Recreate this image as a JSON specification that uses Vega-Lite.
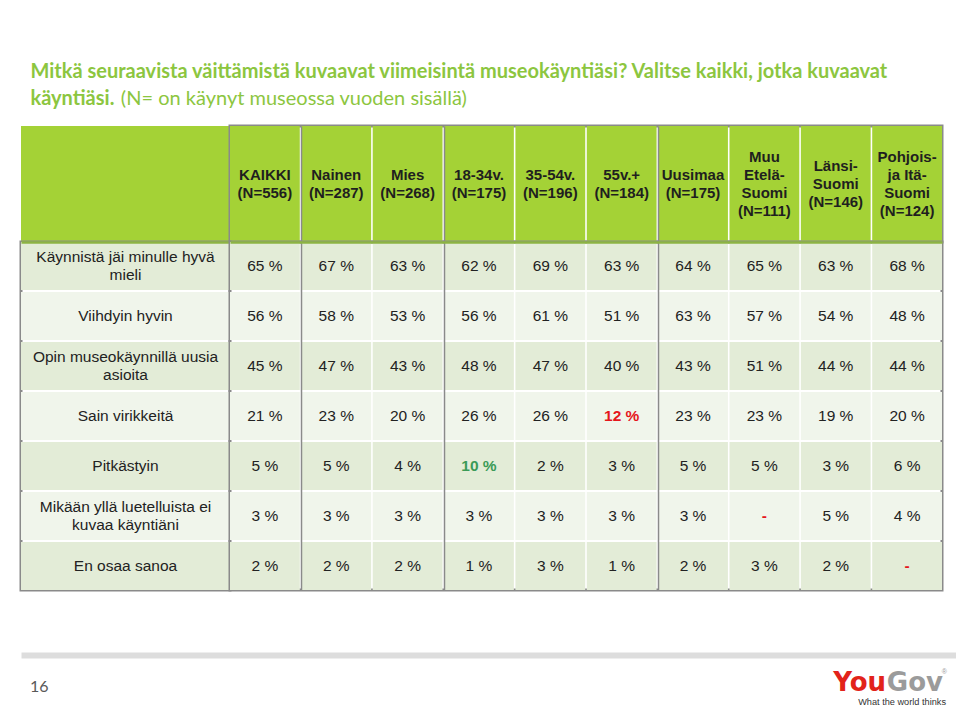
{
  "$schema": "https://vega.github.io/schema/vega-lite/v6.json",
  "background": "white",
  "padding": {"left": 19, "top": 61, "right": 0, "bottom": 0},
  "spacing": 63,
  "config": {
    "font": "Liberation Sans",
    "view": {"stroke": "#8A8A8A", "strokeWidth": 3, "fill": "#FFFFFF"}
  },
  "title": {
    "text": ["Mitkä seuraavista väittämistä kuvaavat viimeisintä museokäyntiäsi? Valitse kaikki, jotka kuvaavat", "käyntiäsi."],
    "subtitle": "\u200b\u2003\u2003\u2003\u2003\u2003\u00a0\u00a0\u00a0(N= on käynyt museossa vuoden sisällä)",
    "anchor": "start",
    "dx": 11,
    "font": "Lato",
    "fontSize": 20,
    "fontWeight": "bold",
    "color": "#8CC63F",
    "lineHeight": 27,
    "subtitleFont": "Lato",
    "subtitleFontSize": 20,
    "subtitleFontWeight": "normal",
    "subtitleColor": "#8CC63F",
    "subtitlePadding": -20,
    "offset": 16
  },
  "datasets": {
    "cols": [
      {"c": "KAIKKI", "h": "KAIKKI\n(N=556)"},
      {"c": "Nainen", "h": "Nainen\n(N=287)"},
      {"c": "Mies", "h": "Mies\n(N=268)"},
      {"c": "18-34v.", "h": "18-34v.\n(N=175)"},
      {"c": "35-54v.", "h": "35-54v.\n(N=196)"},
      {"c": "55v.+", "h": "55v.+\n(N=184)"},
      {"c": "Uusimaa", "h": "Uusimaa\n(N=175)"},
      {"c": "Muu Etelä-Suomi", "h": "Muu\nEtelä-\nSuomi\n(N=111)"},
      {"c": "Länsi-Suomi", "h": "Länsi-\nSuomi\n(N=146)"},
      {"c": "Pohjois- ja Itä-Suomi", "h": "Pohjois-\nja Itä-\nSuomi\n(N=124)"}
    ],
    "rows": [
      {"r": "Käynnistä jäi minulle hyvä mieli", "l": "Käynnistä jäi minulle hyvä\nmieli"},
      {"r": "Viihdyin hyvin", "l": "Viihdyin hyvin"},
      {"r": "Opin museokäynnillä uusia asioita", "l": "Opin museokäynnillä uusia\nasioita"},
      {"r": "Sain virikkeitä", "l": "Sain virikkeitä"},
      {"r": "Pitkästyin", "l": "Pitkästyin"},
      {"r": "Mikään yllä luetelluista ei kuvaa käyntiäni", "l": "Mikään yllä luetelluista ei\nkuvaa käyntiäni"},
      {"r": "En osaa sanoa", "l": "En osaa sanoa"}
    ],
    "cells": [
      {"r": "Käynnistä jäi minulle hyvä mieli", "c": "KAIKKI", "v": "65 %", "s": "n"},
      {"r": "Käynnistä jäi minulle hyvä mieli", "c": "Nainen", "v": "67 %", "s": "n"},
      {"r": "Käynnistä jäi minulle hyvä mieli", "c": "Mies", "v": "63 %", "s": "n"},
      {"r": "Käynnistä jäi minulle hyvä mieli", "c": "18-34v.", "v": "62 %", "s": "n"},
      {"r": "Käynnistä jäi minulle hyvä mieli", "c": "35-54v.", "v": "69 %", "s": "n"},
      {"r": "Käynnistä jäi minulle hyvä mieli", "c": "55v.+", "v": "63 %", "s": "n"},
      {"r": "Käynnistä jäi minulle hyvä mieli", "c": "Uusimaa", "v": "64 %", "s": "n"},
      {"r": "Käynnistä jäi minulle hyvä mieli", "c": "Muu Etelä-Suomi", "v": "65 %", "s": "n"},
      {"r": "Käynnistä jäi minulle hyvä mieli", "c": "Länsi-Suomi", "v": "63 %", "s": "n"},
      {"r": "Käynnistä jäi minulle hyvä mieli", "c": "Pohjois- ja Itä-Suomi", "v": "68 %", "s": "n"},
      {"r": "Viihdyin hyvin", "c": "KAIKKI", "v": "56 %", "s": "n"},
      {"r": "Viihdyin hyvin", "c": "Nainen", "v": "58 %", "s": "n"},
      {"r": "Viihdyin hyvin", "c": "Mies", "v": "53 %", "s": "n"},
      {"r": "Viihdyin hyvin", "c": "18-34v.", "v": "56 %", "s": "n"},
      {"r": "Viihdyin hyvin", "c": "35-54v.", "v": "61 %", "s": "n"},
      {"r": "Viihdyin hyvin", "c": "55v.+", "v": "51 %", "s": "n"},
      {"r": "Viihdyin hyvin", "c": "Uusimaa", "v": "63 %", "s": "n"},
      {"r": "Viihdyin hyvin", "c": "Muu Etelä-Suomi", "v": "57 %", "s": "n"},
      {"r": "Viihdyin hyvin", "c": "Länsi-Suomi", "v": "54 %", "s": "n"},
      {"r": "Viihdyin hyvin", "c": "Pohjois- ja Itä-Suomi", "v": "48 %", "s": "n"},
      {"r": "Opin museokäynnillä uusia asioita", "c": "KAIKKI", "v": "45 %", "s": "n"},
      {"r": "Opin museokäynnillä uusia asioita", "c": "Nainen", "v": "47 %", "s": "n"},
      {"r": "Opin museokäynnillä uusia asioita", "c": "Mies", "v": "43 %", "s": "n"},
      {"r": "Opin museokäynnillä uusia asioita", "c": "18-34v.", "v": "48 %", "s": "n"},
      {"r": "Opin museokäynnillä uusia asioita", "c": "35-54v.", "v": "47 %", "s": "n"},
      {"r": "Opin museokäynnillä uusia asioita", "c": "55v.+", "v": "40 %", "s": "n"},
      {"r": "Opin museokäynnillä uusia asioita", "c": "Uusimaa", "v": "43 %", "s": "n"},
      {"r": "Opin museokäynnillä uusia asioita", "c": "Muu Etelä-Suomi", "v": "51 %", "s": "n"},
      {"r": "Opin museokäynnillä uusia asioita", "c": "Länsi-Suomi", "v": "44 %", "s": "n"},
      {"r": "Opin museokäynnillä uusia asioita", "c": "Pohjois- ja Itä-Suomi", "v": "44 %", "s": "n"},
      {"r": "Sain virikkeitä", "c": "KAIKKI", "v": "21 %", "s": "n"},
      {"r": "Sain virikkeitä", "c": "Nainen", "v": "23 %", "s": "n"},
      {"r": "Sain virikkeitä", "c": "Mies", "v": "20 %", "s": "n"},
      {"r": "Sain virikkeitä", "c": "18-34v.", "v": "26 %", "s": "n"},
      {"r": "Sain virikkeitä", "c": "35-54v.", "v": "26 %", "s": "n"},
      {"r": "Sain virikkeitä", "c": "55v.+", "v": "12 %", "s": "down"},
      {"r": "Sain virikkeitä", "c": "Uusimaa", "v": "23 %", "s": "n"},
      {"r": "Sain virikkeitä", "c": "Muu Etelä-Suomi", "v": "23 %", "s": "n"},
      {"r": "Sain virikkeitä", "c": "Länsi-Suomi", "v": "19 %", "s": "n"},
      {"r": "Sain virikkeitä", "c": "Pohjois- ja Itä-Suomi", "v": "20 %", "s": "n"},
      {"r": "Pitkästyin", "c": "KAIKKI", "v": "5 %", "s": "n"},
      {"r": "Pitkästyin", "c": "Nainen", "v": "5 %", "s": "n"},
      {"r": "Pitkästyin", "c": "Mies", "v": "4 %", "s": "n"},
      {"r": "Pitkästyin", "c": "18-34v.", "v": "10 %", "s": "up"},
      {"r": "Pitkästyin", "c": "35-54v.", "v": "2 %", "s": "n"},
      {"r": "Pitkästyin", "c": "55v.+", "v": "3 %", "s": "n"},
      {"r": "Pitkästyin", "c": "Uusimaa", "v": "5 %", "s": "n"},
      {"r": "Pitkästyin", "c": "Muu Etelä-Suomi", "v": "5 %", "s": "n"},
      {"r": "Pitkästyin", "c": "Länsi-Suomi", "v": "3 %", "s": "n"},
      {"r": "Pitkästyin", "c": "Pohjois- ja Itä-Suomi", "v": "6 %", "s": "n"},
      {"r": "Mikään yllä luetelluista ei kuvaa käyntiäni", "c": "KAIKKI", "v": "3 %", "s": "n"},
      {"r": "Mikään yllä luetelluista ei kuvaa käyntiäni", "c": "Nainen", "v": "3 %", "s": "n"},
      {"r": "Mikään yllä luetelluista ei kuvaa käyntiäni", "c": "Mies", "v": "3 %", "s": "n"},
      {"r": "Mikään yllä luetelluista ei kuvaa käyntiäni", "c": "18-34v.", "v": "3 %", "s": "n"},
      {"r": "Mikään yllä luetelluista ei kuvaa käyntiäni", "c": "35-54v.", "v": "3 %", "s": "n"},
      {"r": "Mikään yllä luetelluista ei kuvaa käyntiäni", "c": "55v.+", "v": "3 %", "s": "n"},
      {"r": "Mikään yllä luetelluista ei kuvaa käyntiäni", "c": "Uusimaa", "v": "3 %", "s": "n"},
      {"r": "Mikään yllä luetelluista ei kuvaa käyntiäni", "c": "Muu Etelä-Suomi", "v": "-", "s": "nil"},
      {"r": "Mikään yllä luetelluista ei kuvaa käyntiäni", "c": "Länsi-Suomi", "v": "5 %", "s": "n"},
      {"r": "Mikään yllä luetelluista ei kuvaa käyntiäni", "c": "Pohjois- ja Itä-Suomi", "v": "4 %", "s": "n"},
      {"r": "En osaa sanoa", "c": "KAIKKI", "v": "2 %", "s": "n"},
      {"r": "En osaa sanoa", "c": "Nainen", "v": "2 %", "s": "n"},
      {"r": "En osaa sanoa", "c": "Mies", "v": "2 %", "s": "n"},
      {"r": "En osaa sanoa", "c": "18-34v.", "v": "1 %", "s": "n"},
      {"r": "En osaa sanoa", "c": "35-54v.", "v": "3 %", "s": "n"},
      {"r": "En osaa sanoa", "c": "55v.+", "v": "1 %", "s": "n"},
      {"r": "En osaa sanoa", "c": "Uusimaa", "v": "2 %", "s": "n"},
      {"r": "En osaa sanoa", "c": "Muu Etelä-Suomi", "v": "3 %", "s": "n"},
      {"r": "En osaa sanoa", "c": "Länsi-Suomi", "v": "2 %", "s": "n"},
      {"r": "En osaa sanoa", "c": "Pohjois- ja Itä-Suomi", "v": "-", "s": "nil"}
    ]
  },
  "vconcat": [
    {
      "bounds": "flush",
      "spacing": 0,
      "columns": 2,
      "concat": [
        {
          "width": 209,
          "height": 116,
          "data": {"values": [{"k": "h"}]},
          "mark": {"type": "rect", "fill": "#A4D236"},
          "encoding": {}
        },
        {
          "width": 712,
          "height": 116,
          "data": {"name": "cols"},
          "encoding": {
            "x": {
              "field": "c", "type": "nominal", "sort": null,
              "scale": {"domain": ["KAIKKI", "Nainen", "Mies", "18-34v.", "35-54v.", "55v.+", "Uusimaa", "Muu Etelä-Suomi", "Länsi-Suomi", "Pohjois- ja Itä-Suomi"], "paddingInner": 0.022, "paddingOuter": 0},
              "axis": {"orient": "bottom", "values": ["Nainen", "18-34v.", "Uusimaa"], "bandPosition": 0, "grid": true, "gridColor": "#8A8A8A", "gridWidth": 1.5, "labels": false, "ticks": false, "domain": false, "title": null, "zindex": 1}
            },
            "text": {"field": "h"}
          },
          "layer": [
            {"mark": {"type": "rect", "fill": "#A4D236"}},
            {
              "transform": [{"filter": {"field": "c", "oneOf": ["KAIKKI", "Nainen", "Mies", "18-34v.", "35-54v.", "55v.+", "Uusimaa"]}}],
              "mark": {"type": "text", "fontWeight": "bold", "fontSize": 15, "lineBreak": "\n", "lineHeight": 18, "color": "#1F1F1F", "dy": -9}
            },
            {
              "transform": [{"filter": {"field": "c", "oneOf": ["Länsi-Suomi"]}}],
              "mark": {"type": "text", "fontWeight": "bold", "fontSize": 15, "lineBreak": "\n", "lineHeight": 18, "color": "#1F1F1F", "dy": -18}
            },
            {
              "transform": [{"filter": {"field": "c", "oneOf": ["Muu Etelä-Suomi", "Pohjois- ja Itä-Suomi"]}}],
              "mark": {"type": "text", "fontWeight": "bold", "fontSize": 15, "lineBreak": "\n", "lineHeight": 18, "color": "#1F1F1F", "dy": -27}
            }
          ]
        },
        {
          "width": 209,
          "height": 348,
          "data": {"name": "rows"},
          "encoding": {
            "y": {"field": "r", "type": "nominal", "sort": null, "scale": {"domain": ["Käynnistä jäi minulle hyvä mieli", "Viihdyin hyvin", "Opin museokäynnillä uusia asioita", "Sain virikkeitä", "Pitkästyin", "Mikään yllä luetelluista ei kuvaa käyntiäni", "En osaa sanoa"], "paddingInner": 0.04, "paddingOuter": 0}, "axis": null},
            "x": {"datum": "a", "type": "nominal", "scale": {"domain": ["a"], "paddingInner": 0, "paddingOuter": 0}, "axis": {"orient": "top", "domain": true, "domainColor": "#8DB443", "domainWidth": 2.5, "labels": false, "ticks": false, "grid": false, "title": null, "zindex": 1}}
          },
          "layer": [
            {
              "mark": {"type": "rect"},
              "encoding": {"fill": {"field": "r", "type": "nominal", "scale": {"domain": ["Käynnistä jäi minulle hyvä mieli", "Viihdyin hyvin", "Opin museokäynnillä uusia asioita", "Sain virikkeitä", "Pitkästyin", "Mikään yllä luetelluista ei kuvaa käyntiäni", "En osaa sanoa"], "range": ["#E3ECD7", "#F0F5EB", "#E3ECD7", "#F0F5EB", "#E3ECD7", "#F0F5EB", "#E3ECD7"]}, "legend": null}}
            },
            {
              "transform": [{"filter": {"field": "r", "oneOf": ["Viihdyin hyvin", "Sain virikkeitä", "Pitkästyin", "En osaa sanoa"]}}],
              "mark": {"type": "text", "fontSize": 15.5, "lineBreak": "\n", "lineHeight": 18, "color": "#222222"},
              "encoding": {"text": {"field": "l"}}
            },
            {
              "transform": [{"filter": {"field": "r", "oneOf": ["Käynnistä jäi minulle hyvä mieli", "Opin museokäynnillä uusia asioita", "Mikään yllä luetelluista ei kuvaa käyntiäni"]}}],
              "mark": {"type": "text", "fontSize": 15.5, "lineBreak": "\n", "lineHeight": 18, "color": "#222222", "dy": -9},
              "encoding": {"text": {"field": "l"}}
            }
          ]
        },
        {
          "width": 712,
          "height": 348,
          "data": {"name": "cells"},
          "encoding": {
            "x": {
              "field": "c", "type": "nominal", "sort": null,
              "scale": {"domain": ["KAIKKI", "Nainen", "Mies", "18-34v.", "35-54v.", "55v.+", "Uusimaa", "Muu Etelä-Suomi", "Länsi-Suomi", "Pohjois- ja Itä-Suomi"], "paddingInner": 0.022, "paddingOuter": 0},
              "axis": {"orient": "top", "values": ["Nainen", "18-34v.", "Uusimaa"], "bandPosition": 0, "grid": true, "gridColor": "#8A8A8A", "gridWidth": 1.5, "labels": false, "ticks": false, "domain": true, "domainColor": "#8DB443", "domainWidth": 2.5, "title": null, "zindex": 1}
            },
            "y": {"field": "r", "type": "nominal", "sort": null, "scale": {"domain": ["Käynnistä jäi minulle hyvä mieli", "Viihdyin hyvin", "Opin museokäynnillä uusia asioita", "Sain virikkeitä", "Pitkästyin", "Mikään yllä luetelluista ei kuvaa käyntiäni", "En osaa sanoa"], "paddingInner": 0.04, "paddingOuter": 0}, "axis": null}
          },
          "layer": [
            {
              "mark": {"type": "rect"},
              "encoding": {"fill": {"field": "r", "type": "nominal", "scale": {"domain": ["Käynnistä jäi minulle hyvä mieli", "Viihdyin hyvin", "Opin museokäynnillä uusia asioita", "Sain virikkeitä", "Pitkästyin", "Mikään yllä luetelluista ei kuvaa käyntiäni", "En osaa sanoa"], "range": ["#E3ECD7", "#F0F5EB", "#E3ECD7", "#F0F5EB", "#E3ECD7", "#F0F5EB", "#E3ECD7"]}, "legend": null}}
            },
            {
              "transform": [{"filter": "datum.s === 'n'"}],
              "mark": {"type": "text", "fontSize": 15.5, "color": "#222222"},
              "encoding": {"text": {"field": "v"}}
            },
            {
              "transform": [{"filter": "datum.s !== 'n'"}],
              "mark": {"type": "text", "fontSize": 15.5, "fontWeight": "bold"},
              "encoding": {"text": {"field": "v"}, "color": {"field": "s", "type": "nominal", "scale": {"domain": ["up", "down", "nil"], "range": ["#3B9B57", "#E5161C", "#E5161C"]}, "legend": null}}
            }
          ]
        }
      ]
    },
    {
      "width": 935,
      "height": 52,
      "view": {"stroke": null},
      "encoding": {
        "x": {"field": "k", "type": "nominal", "scale": {"type": "point", "domain": ["page", "logo"], "padding": 0}, "axis": {"orient": "top", "domain": true, "domainColor": "#DDDDDD", "domainWidth": 6, "labels": false, "ticks": false, "grid": false, "title": null}},
        "text": {"field": "t"}
      },
      "layer": [
        {
          "data": {"values": [{"k": "page", "t": "16"}]},
          "mark": {"type": "text", "align": "left", "font": "Lato", "fontSize": 16, "color": "#595959", "dx": 9, "dy": 6}
        },
        {
          "data": {"values": [{"k": "logo", "t": "Gov"}]},
          "mark": {"type": "text", "align": "right", "font": "DejaVu Sans", "fontWeight": "bold", "fontSize": 26, "color": "#9B9B9B", "dx": -13, "dy": 2}
        },
        {
          "data": {"values": [{"k": "logo", "t": "You"}]},
          "mark": {"type": "text", "align": "right", "font": "DejaVu Sans", "fontWeight": "bold", "fontSize": 26, "color": "#E2231A", "dx": -70, "dy": 2}
        },
        {
          "data": {"values": [{"k": "logo", "t": "®"}]},
          "mark": {"type": "text", "align": "right", "fontSize": 7, "color": "#9B9B9B", "dx": -9, "dy": -9}
        },
        {
          "data": {"values": [{"k": "logo", "t": "What the world thinks"}]},
          "mark": {"type": "text", "align": "right", "fontSize": 9.2, "color": "#333333", "dx": -10, "dy": 21}
        }
      ]
    }
  ]
}
